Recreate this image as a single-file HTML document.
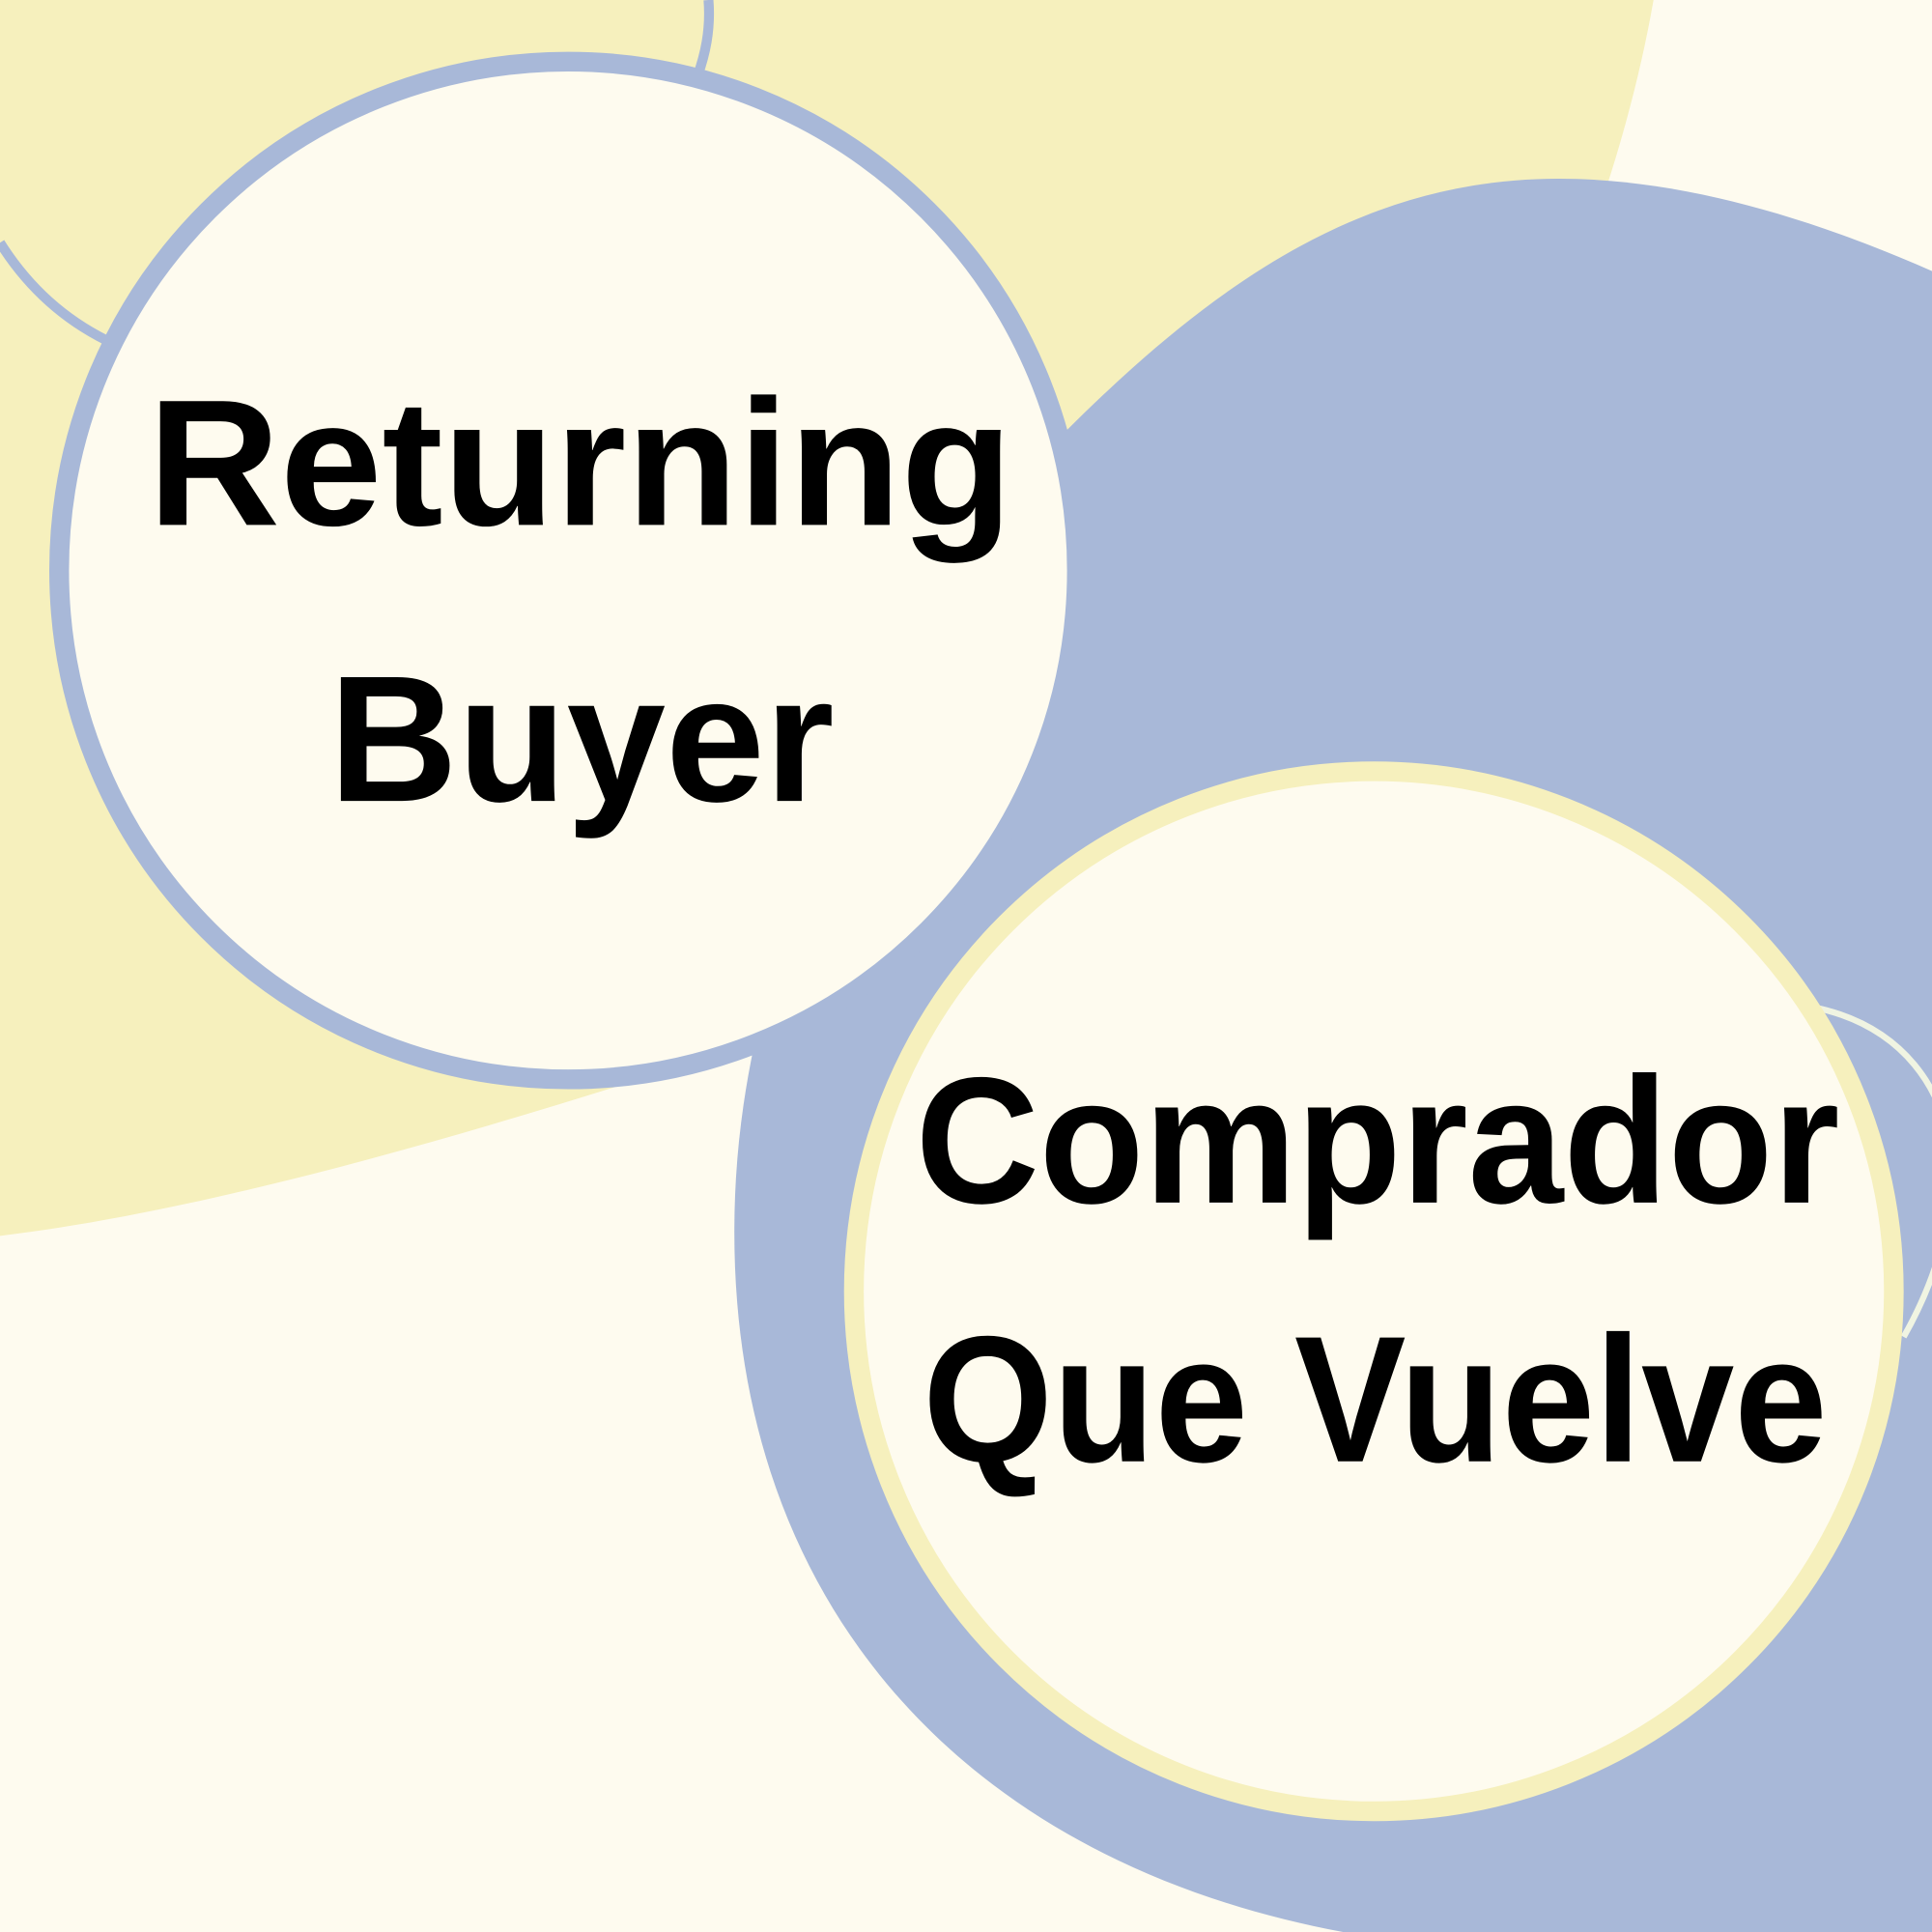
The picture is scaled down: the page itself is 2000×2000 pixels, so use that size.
<!DOCTYPE html>
<html><head><meta charset="utf-8"><style>html,body{margin:0;padding:0;background:#fefbef}svg{display:block}</style></head>
<body>
<svg width="2000" height="2000" viewBox="0 0 1568 1568" xmlns="http://www.w3.org/2000/svg">
<rect width="1568" height="1568" fill="#fefbef"/>
<path d="M0 0 H1342 C1300 240 1150 560 900 720 C760 810 620 850 500 882 C330 935 150 985 0 1003 Z" fill="#f6f0bd"/>
<path d="M575 0 C577 25 572 45 566 62" fill="none" stroke="#a8b8d8" stroke-width="8"/>
<path d="M0 197 C22 232 50 258 86 276" fill="none" stroke="#a8b8d8" stroke-width="8"/>
<path d="M1568 220 C1450 168 1350 145 1265 145 C1110 145 990 225 865 350 L700 600 C625 760 596 880 596 1000 C596 1300 780 1510 1090 1568 H1568 Z" fill="#a8b8d8"/>
<path d="M1470 817 C1545 832 1580 885 1585 945 C1585 1000 1565 1050 1545 1085" fill="none" stroke="#f0f4e2" stroke-width="5"/>
<circle cx="461" cy="463" r="413" fill="#fefbef" stroke="#a8b8d8" stroke-width="16"/>
<circle cx="1115" cy="1048" r="422" fill="#fefbef" stroke="#f6f0bd" stroke-width="16"/>
<g font-family="Liberation Sans, sans-serif" font-weight="bold" fill="#000" text-anchor="middle">
<text x="471" y="426" font-size="146" textLength="702" lengthAdjust="spacingAndGlyphs">Returning</text>
<text x="472" y="650" font-size="146" textLength="410" lengthAdjust="spacingAndGlyphs">Buyer</text>
<text x="1118" y="976" font-size="146" textLength="750" lengthAdjust="spacingAndGlyphs">Comprador</text>
<text x="1116" y="1186" font-size="146" textLength="734" lengthAdjust="spacingAndGlyphs">Que Vuelve</text>
</g>
</svg>
</body></html>
